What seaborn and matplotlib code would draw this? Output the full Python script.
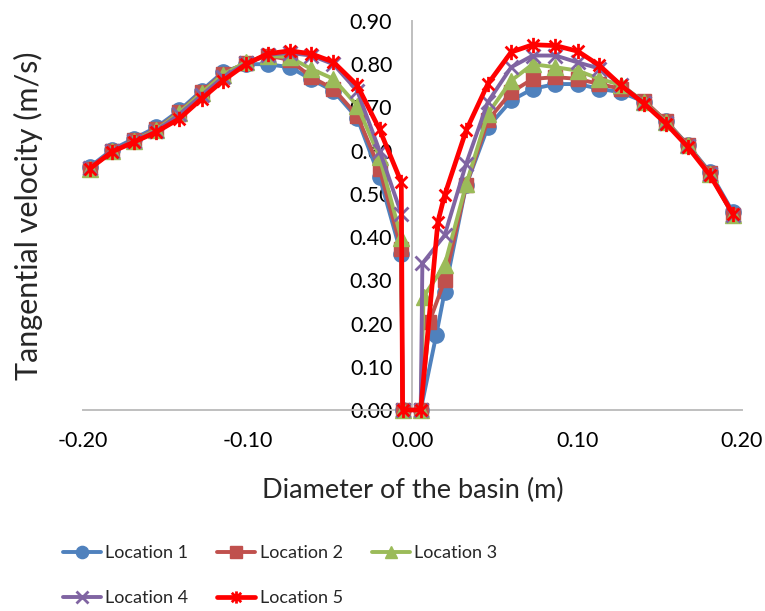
import numpy as np
import pandas as pd
import matplotlib
matplotlib.use("Agg")
import matplotlib.pyplot as plt
from matplotlib.path import Path
import seaborn as sns

# x positions (m)
x_left = [-0.196, -0.1825, -0.169, -0.1555, -0.1415, -0.128, -0.115, -0.101,
          -0.088, -0.0745, -0.0615, -0.048, -0.0335, -0.020, -0.0068]
x_right = [0.0195, 0.0326, 0.0457, 0.0599, 0.073, 0.0868, 0.1003, 0.1135,
           0.1266, 0.1408, 0.154, 0.167, 0.1806, 0.1944]
x_wall_left = -0.006
x_wall_right = 0.005

# tangential velocity (m/s), left half
loc1_left = [0.562, 0.602, 0.628, 0.654, 0.693, 0.739, 0.782, 0.800, 0.800, 0.793, 0.765, 0.738, 0.675, 0.539, 0.360]
loc2_left = [0.558, 0.598, 0.624, 0.650, 0.689, 0.735, 0.778, 0.803, 0.820, 0.810, 0.770, 0.743, 0.681, 0.558, 0.373]
loc3_left = [0.558, 0.598, 0.623, 0.648, 0.688, 0.733, 0.776, 0.805, 0.820, 0.816, 0.789, 0.766, 0.704, 0.585, 0.397]
loc4_left = [0.560, 0.600, 0.622, 0.646, 0.684, 0.728, 0.770, 0.802, 0.822, 0.826, 0.820, 0.800, 0.738, 0.600, 0.454]
loc5_left = [0.558, 0.597, 0.620, 0.643, 0.674, 0.720, 0.762, 0.800, 0.824, 0.831, 0.824, 0.805, 0.751, 0.649, 0.527]

# first point next to the central wall on the right side (x, value)
loc1_near = (0.0144, 0.173)
loc2_near = (0.0103, 0.204)
loc3_near = (0.0067, 0.262)
loc4_near = (0.0060, 0.339)
loc5_near = (0.0154, 0.435)

# right half
loc1_right = [0.273, 0.520, 0.654, 0.716, 0.743, 0.754, 0.754, 0.743, 0.735, 0.713, 0.668, 0.614, 0.550, 0.458]
loc2_right = [0.300, 0.520, 0.670, 0.735, 0.766, 0.770, 0.766, 0.754, 0.743, 0.715, 0.668, 0.613, 0.548, 0.452]
loc3_right = [0.335, 0.522, 0.685, 0.762, 0.800, 0.793, 0.785, 0.766, 0.752, 0.712, 0.666, 0.612, 0.546, 0.451]
loc4_right = [0.404, 0.570, 0.712, 0.793, 0.820, 0.820, 0.804, 0.790, 0.752, 0.710, 0.664, 0.611, 0.545, 0.452]
loc5_right = [0.497, 0.647, 0.754, 0.828, 0.845, 0.843, 0.830, 0.797, 0.751, 0.708, 0.662, 0.609, 0.543, 0.454]

labels = ["Location 1", "Location 2", "Location 3", "Location 4", "Location 5"]
colors = ["#4F81BD", "#C0504D", "#9BBB59", "#8064A2", "#FF0000"]

# excel style star: an X with a vertical bar
star = Path([(-1, -1), (1, 1), (-1, 1), (1, -1), (0, -1.3), (0, 1.3)],
            [Path.MOVETO, Path.LINETO, Path.MOVETO, Path.LINETO, Path.MOVETO, Path.LINETO])
markers = ["o", "s", "^", "x", star]
msizes = [11, 10, 11, 10, 11]
lwidths = [2.8, 2.8, 2.8, 2.8, 3.4]


def build_series(left, near, right):
    xs = x_left + [x_wall_left, x_wall_right, near[0]] + x_right
    ys = left + [0.0, 0.0, near[1]] + right
    return pd.DataFrame({"x": xs, "y": ys})


sns.set_theme(style="white")
plt.rcParams["font.family"] = ["Lato", "DejaVu Sans"]
plt.rcParams["axes.unicode_minus"] = False

fig = plt.figure(figsize=(7.65, 6.11), dpi=100)
ax = fig.add_axes([0.1085, 0.329, 0.8614, 0.6367])

all_left = [loc1_left, loc2_left, loc3_left, loc4_left, loc5_left]
all_near = [loc1_near, loc2_near, loc3_near, loc4_near, loc5_near]
all_right = [loc1_right, loc2_right, loc3_right, loc4_right, loc5_right]

for i in range(5):
    df = build_series(all_left[i], all_near[i], all_right[i])
    mew = 2.0 if i >= 3 else 1.0
    sns.lineplot(data=df, x="x", y="y", sort=False, estimator=None, ax=ax,
                 color=colors[i], linewidth=lwidths[i], marker=markers[i],
                 markersize=msizes[i], markerfacecolor=colors[i],
                 markeredgecolor=colors[i], markeredgewidth=mew,
                 label=labels[i], clip_on=False, zorder=3 + i)

ax.set_xlim(-0.2, 0.2)
ax.set_ylim(0, 0.9)
ax.set_xticks([-0.2, -0.1, 0.0, 0.1, 0.2])
ax.set_yticks(np.arange(0, 0.91, 0.1))
ax.xaxis.set_major_formatter(matplotlib.ticker.FormatStrFormatter("%.2f"))
ax.yaxis.set_major_formatter(matplotlib.ticker.FormatStrFormatter("%.2f"))

# axes like the excel chart: y axis crossing at x = 0
for side in ["top", "right"]:
    ax.spines[side].set_visible(False)
ax.spines["left"].set_position(("data", 0))
for side in ["left", "bottom"]:
    ax.spines[side].set_color("#BFBFBF")
    ax.spines[side].set_linewidth(1.4)
    ax.spines[side].set_zorder(1)
ax.tick_params(axis="both", which="both", direction="out", color="#BFBFBF",
               width=1.4, labelsize=15.5, labelcolor="black")
ax.tick_params(axis="x", length=5, pad=10)
ax.tick_params(axis="y", length=4.5, pad=10)

ax.set_xlabel("Diameter of the basin (m)", fontsize=19.5)
ax.set_ylabel("Tangential velocity (m/s)", fontsize=22)
ax.xaxis.set_label_coords(0.5, -0.175)
ax.yaxis.set_label_coords(-0.06, 0.5)

# row-wise legend order like the reference (matplotlib fills columns first)
handles, labs = ax.get_legend_handles_labels()
ax.get_legend().remove()
order = [0, 3, 1, 4, 2]
fig.legend([handles[k] for k in order], [labs[k] for k in order],
           loc="upper left", bbox_to_anchor=(0.082, 0.108),
           ncol=3, frameon=False, fontsize=13, handlelength=2.1,
           handletextpad=0.25, columnspacing=1.6, labelspacing=1.6,
           borderpad=0, borderaxespad=0, markerscale=0.8)

fig.savefig("out.png", dpi=100)
